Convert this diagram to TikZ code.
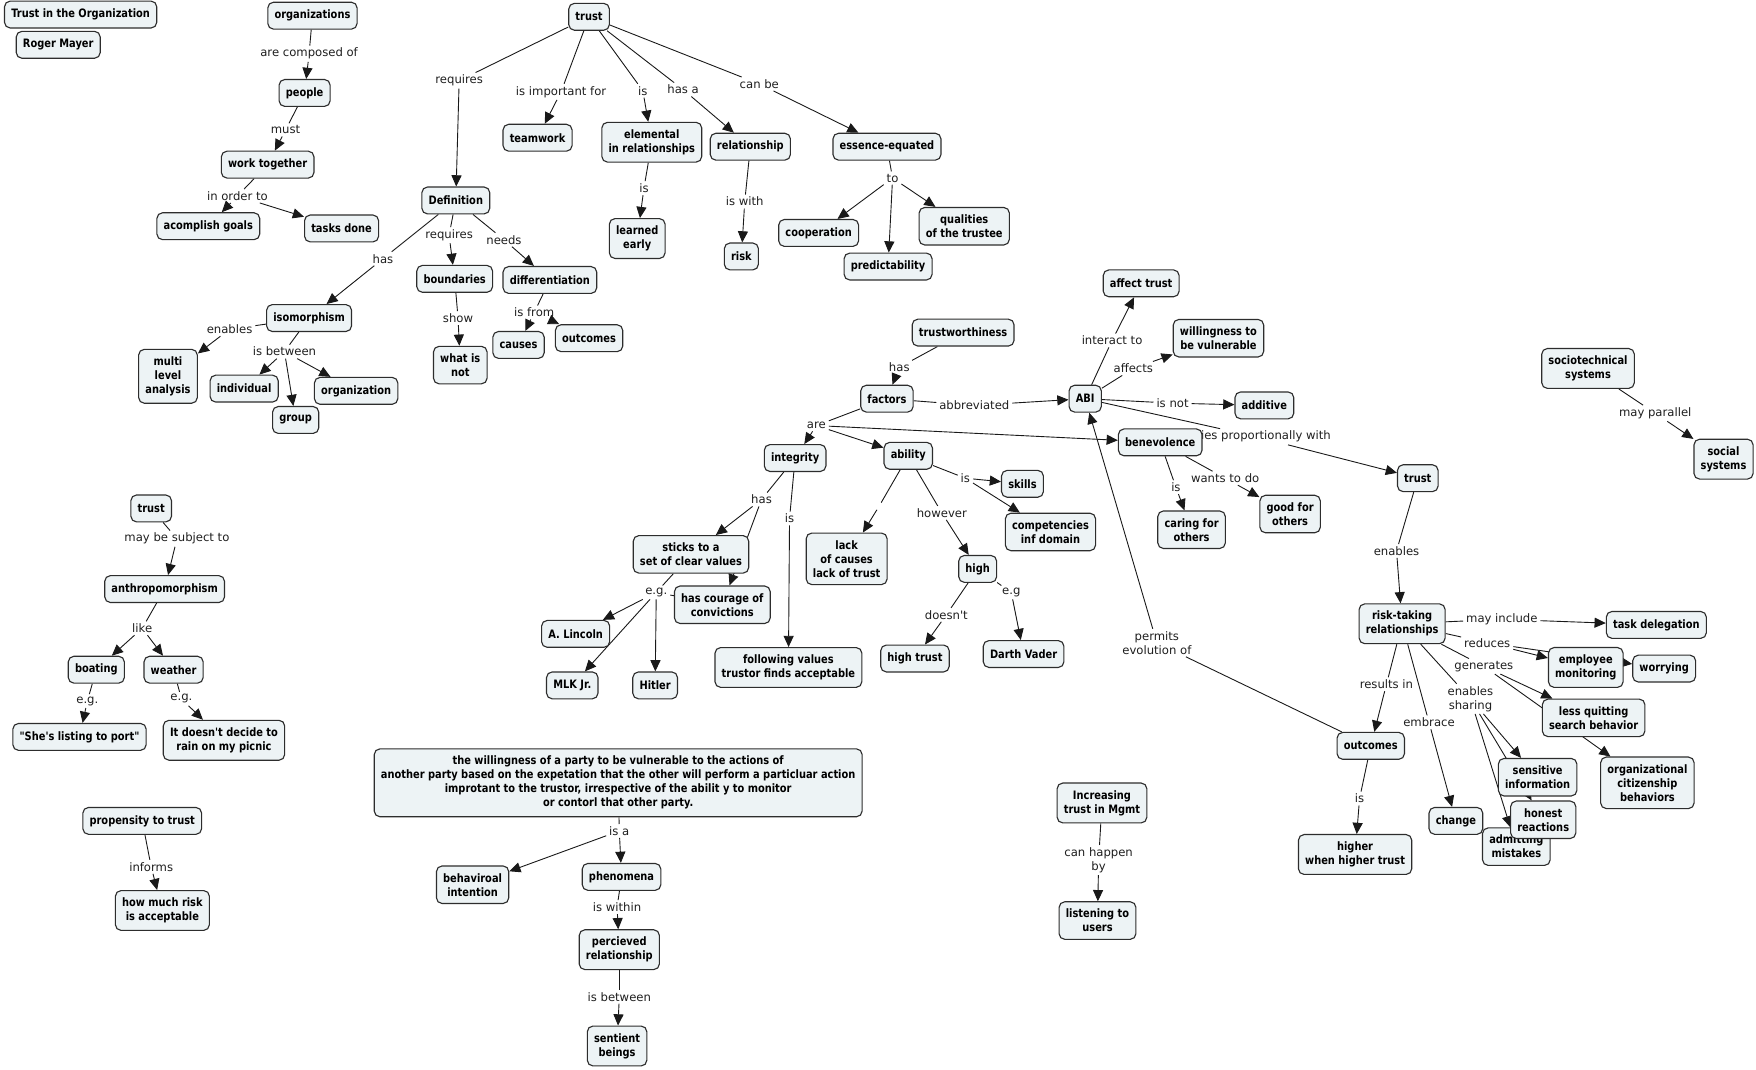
\documentclass[tikz,border=0pt]{standalone}
\usepackage{fontspec}
\setmainfont{DejaVu Sans}
\newfontfamily\boxfont{DejaVu Sans}[FakeStretch=0.85,Ligatures=TeXOff]
\newfontfamily\lblfont{DejaVu Sans}[Ligatures=TeXOff]
\usetikzlibrary{arrows.meta}
\definecolor{boxfill}{RGB}{237,243,245}
\definecolor{boxline}{RGB}{45,45,45}
\definecolor{linkcol}{RGB}{25,25,25}
\pgfdeclarelayer{bg}
\pgfsetlayers{bg,main}
\tikzset{
  cbox/.style={draw=boxline, line width=1pt, fill=boxfill, rounded corners=5pt, inner xsep=6pt, inner ysep=6.5pt, minimum height=24pt, align=center, font=\boxfont\bfseries\fontsize{10.35}{12.5}\selectfont, text=black},
  lbl/.style={inner xsep=2.5pt, inner ysep=2pt, align=center, font=\lblfont\fontsize{10.4}{12.5}\selectfont, text=black!88},
  gap/.style={inner sep=0pt, minimum size=6pt},
  link/.style={draw=linkcol, line width=0.8pt},
  arr/.style={link, -{Triangle[length=10pt,width=9pt]}},
}
\newcommand\mylink[3]{\draw[link] (#1) -- (#2);\foreach \tg in {#3} {\draw[arr] (#2) -- (\tg);}}
\begin{document}
\begin{tikzpicture}[x=1pt,y=-1pt]
\begin{pgfonlayer}{bg}
\path[fill=white] (0,0) rectangle (1568,955);
\end{pgfonlayer}
\useasboundingbox (0,0) rectangle (1568,955);
% ---------- labels ----------
\node[lbl] (l_comp) at (276,48) {are composed of};
\node[lbl] (l_must) at (255,116) {must};
\node[lbl] (l_inorder) at (212,175) {in order to};
\node[lbl] (l_req1) at (410,72) {requires};
\node[lbl] (l_impfor) at (501,82) {is important for};
\node[lbl] (l_is1) at (574,81) {is};
\node[lbl] (l_hasa) at (610,80) {has a};
\node[lbl] (l_canbe) at (678,75) {can be};
\node[lbl] (l_is2) at (575,168) {is};
\node[lbl] (l_iswith) at (665,180) {is with};
\node[lbl] (l_to) at (797,159) {to};
\node[lbl] (l_has1) at (342,231) {has};
\node[lbl] (l_req2) at (401,210) {requires};
\node[lbl] (l_needs) at (450,214) {needs};
\node[lbl] (l_show) at (409,284) {show};
\node[lbl] (l_isfrom) at (477,279) {is from};
\node[lbl] (l_enables1) at (205,294) {enables};
\node[lbl] (l_isbetw1) at (254,314) {is between};
\node[lbl] (l_has2) at (803,328) {has};
\node[lbl] (l_abbr) at (870,362) {abbreviated};
\node[lbl] (l_interact) at (993,304) {interact to};
\node[lbl] (l_affects) at (1012,329) {affects};
\node[lbl] (l_isnot) at (1047,360) {is not};
\node[lbl] (l_varies) at (1122,390) {varies proportionally with};
\node[lbl] (l_are) at (729,380) {are};
\node[lbl] (l_has3) at (680,446) {has};
\node[lbl] (l_is3) at (705,463) {is};
\node[lbl] (l_eg1) at (586,529) {e.g.};
\node[gap] (l_empty) at (785,452) {};
\node[lbl] (l_however) at (841,458) {however};
\node[lbl] (l_is4) at (862,427) {is};
\node[lbl] (l_doesnt) at (845,549) {doesn't};
\node[lbl] (l_eg2) at (903,529) {e.g};
\node[lbl] (l_is5) at (1050,435) {is};
\node[lbl] (l_wants) at (1094,427) {wants to do};
\node[lbl] (l_enables2) at (1247,492) {enables};
\node[lbl] (l_parallel) at (1478,369) {may parallel};
\node[lbl] (l_mayinc) at (1341,553) {may include};
\node[lbl] (l_reduces) at (1328,574) {reduces};
\node[lbl] (l_generates) at (1325,595) {generates};
\node[lbl] (l_share) at (1313,624) {enables\\sharing};
\node[lbl] (l_results) at (1238,611) {results in};
\node[lbl] (l_embrace) at (1276,645) {embrace};
\node[lbl] (l_is6) at (1214,713) {is};
\node[lbl] (l_permits) at (1033,574) {permits\\evolution of};
\node[lbl] (l_canhappen) at (981,768) {can happen\\by};
\node[lbl] (l_subject) at (158,481) {may be subject to};
\node[lbl] (l_like) at (127,561) {like};
\node[lbl] (l_eg3) at (78,626) {e.g.};
\node[lbl] (l_eg4) at (162,624) {e.g.};
\node[lbl] (l_informs) at (135,774) {informs};
\node[lbl] (l_isa) at (553,742) {is a};
\node[lbl] (l_within) at (551,810) {is within};
\node[lbl] (l_isbetw2) at (553,890) {is between};
% ---------- concepts ----------
\node[cbox] (n_title) at (72,13) {Trust in the Organization};
\node[cbox] (n_roger) at (52,40) {Roger Mayer};
\node[cbox] (n_orgs) at (279,14) {organizations};
\node[cbox] (n_people) at (272,83) {people};
\node[cbox] (n_work) at (239,147) {work together};
\node[cbox] (n_goals) at (186,202) {acomplish goals};
\node[cbox] (n_tasks) at (305,204) {tasks done};
\node[cbox] (n_trust1) at (526,15) {trust};
\node[cbox] (n_team) at (480,123) {teamwork};
\node[cbox] (n_elem) at (582,127) {elemental\\in relationships};
\node[cbox] (n_rel) at (670,131) {relationship};
\node[cbox] (n_ess) at (792,131) {essence-equated};
\node[cbox] (n_learn) at (569,213) {learned\\early};
\node[cbox] (n_risk) at (662,229) {risk};
\node[cbox] (n_coop) at (731,208) {cooperation};
\node[cbox] (n_pred) at (793,238) {predictability};
\node[cbox] (n_qual) at (861,202) {qualities\\of the trustee};
\node[cbox] (n_def) at (407,179) {Definition};
\node[cbox] (n_bound) at (406,249) {boundaries};
\node[cbox] (n_diff) at (491,250) {differentiation};
\node[cbox] (n_iso) at (276,284) {isomorphism};
\node[cbox] (n_multi) at (150,336) {multi\\level\\analysis};
\node[cbox] (n_indiv) at (218,347) {individual};
\node[cbox] (n_group) at (264,375) {group};
\node[cbox] (n_org) at (318,349) {organization};
\node[cbox] (n_whatnot) at (411,326) {what is\\not};
\node[cbox] (n_causes) at (463,308) {causes};
\node[cbox] (n_outc1) at (526,302) {outcomes};
\node[cbox] (n_tw) at (860,297) {trustworthiness};
\node[cbox] (n_fact) at (792,356) {factors};
\node[cbox] (n_abi) at (969,356) {ABI};
\node[cbox] (n_affect) at (1019,253) {affect trust};
\node[cbox] (n_will) at (1088,302) {willingness to\\be vulnerable};
\node[cbox] (n_add) at (1129,362) {additive};
\node[cbox] (n_benev) at (1036,395) {benevolence};
\node[cbox] (n_trust2) at (1266,427) {trust};
\node[cbox] (n_integ) at (710,409) {integrity};
\node[cbox] (n_abil) at (811,407) {ability};
\node[cbox] (n_skills) at (913,432) {skills};
\node[cbox] (n_comp) at (938,475) {competencies\\inf domain};
\node[cbox] (n_caring) at (1064,473) {caring for\\others};
\node[cbox] (n_good) at (1152,459) {good for\\others};
\node[cbox] (n_sticks) at (617,495) {sticks to a\\set of clear values};
\node[cbox] (n_courage) at (645,540) {has courage of\\convictions};
\node[cbox] (n_lack) at (756,499) {lack\\of causes\\lack of trust};
\node[cbox] (n_high) at (873,508) {high};
\node[cbox] (n_lincoln) at (514,566) {A. Lincoln};
\node[cbox] (n_mlk) at (511,612) {MLK Jr.};
\node[cbox] (n_hitler) at (585,612) {Hitler};
\node[cbox] (n_follow) at (704,596) {following values\\trustor finds acceptable};
\node[cbox] (n_hightrust) at (817,588) {high trust};
\node[cbox] (n_vader) at (914,584) {Darth Vader};
\node[cbox] (n_socio) at (1418,329) {sociotechnical\\systems};
\node[cbox] (n_social) at (1539,410) {social\\systems};
\node[cbox] (n_rtr) at (1252,557) {risk-taking\\relationships};
\node[cbox] (n_task) at (1479,558) {task delegation};
\node[cbox] (n_emp) at (1416,596) {employee\\monitoring};
\node[cbox] (n_worry) at (1486,597) {worrying};
\node[cbox] (n_lessq) at (1423,641) {less quitting\\search behavior};
\node[cbox] (n_ocb) at (1471,699) {organizational\\citizenship\\behaviors};
\node[cbox] (n_sens) at (1373,694) {sensitive\\information};
\node[cbox] (n_admit) at (1354,756) {admitting\\mistakes};
\node[cbox] (n_honest) at (1378,732) {honest\\reactions};
\node[cbox] (n_change) at (1300,733) {change};
\node[cbox] (n_outc2) at (1224,666) {outcomes};
\node[cbox] (n_higher) at (1210,763) {higher\\when higher trust};
\node[cbox] (n_incr) at (984,717) {Increasing\\trust in Mgmt};
\node[cbox] (n_listen) at (980,822) {listening to\\users};
\node[cbox] (n_trust3) at (135,454) {trust};
\node[cbox] (n_anthro) at (147,526) {anthropomorphism};
\node[cbox] (n_boat) at (86,598) {boating};
\node[cbox] (n_weather) at (155,598) {weather};
\node[cbox] (n_she) at (71,658) {"She's listing to port"};
\node[cbox] (n_rain) at (200,661) {It doesn't decide to\\rain on my picnic};
\node[cbox] (n_prop) at (127,733) {propensity to trust};
\node[cbox] (n_howmuch) at (145,813) {how much risk\\is acceptable};
\node[cbox] (n_deftext) at (552,699) {the willingness of a party to be vulnerable to the actions of\\another party based on the expetation that the other will perform a particluar action\\improtant to the trustor, irrespective of the abilit y to monitor\\or contorl that other party.};
\node[cbox] (n_behav) at (422,790) {behaviroal\\intention};
\node[cbox] (n_phen) at (555,783) {phenomena};
\node[cbox] (n_perc) at (553,848) {percieved\\relationship};
\node[cbox] (n_sent) at (551,934) {sentient\\beings};
% ---------- links ----------
\begin{pgfonlayer}{bg}
\mylink{n_orgs}{l_comp}{n_people}
\mylink{n_people}{l_must}{n_work}
\mylink{n_work}{l_inorder}{n_goals,n_tasks}
\mylink{n_trust1}{l_req1}{n_def}
\mylink{n_trust1}{l_impfor}{n_team}
\mylink{n_trust1}{l_is1}{n_elem}
\mylink{n_trust1}{l_hasa}{n_rel}
\mylink{n_trust1}{l_canbe}{n_ess}
\mylink{n_elem}{l_is2}{n_learn}
\mylink{n_rel}{l_iswith}{n_risk}
\mylink{n_ess}{l_to}{n_coop,n_pred,n_qual}
\mylink{n_def}{l_has1}{n_iso}
\mylink{n_def}{l_req2}{n_bound}
\mylink{n_def}{l_needs}{n_diff}
\mylink{n_bound}{l_show}{n_whatnot}
\mylink{n_diff}{l_isfrom}{n_causes,n_outc1}
\mylink{n_iso}{l_enables1}{n_multi}
\mylink{n_iso}{l_isbetw1}{n_indiv,n_group,n_org}
\mylink{n_tw}{l_has2}{n_fact}
\mylink{n_fact}{l_abbr}{n_abi}
\mylink{n_abi}{l_interact}{n_affect}
\mylink{n_abi}{l_affects}{n_will}
\mylink{n_abi}{l_isnot}{n_add}
\mylink{n_abi}{l_varies}{n_trust2}
\mylink{n_fact}{l_are}{n_integ,n_abil,n_benev}
\mylink{n_integ}{l_has3}{n_sticks,n_courage}
\mylink{n_integ}{l_is3}{n_follow}
\mylink{n_sticks}{l_eg1}{n_lincoln,n_mlk,n_hitler}
\draw[link] (n_courage) -- (l_eg1);
\mylink{n_abil}{l_empty}{n_lack}
\mylink{n_abil}{l_however}{n_high}
\mylink{n_abil}{l_is4}{n_skills,n_comp}
\mylink{n_high}{l_doesnt}{n_hightrust}
\mylink{n_high}{l_eg2}{n_vader}
\mylink{n_benev}{l_is5}{n_caring}
\mylink{n_benev}{l_wants}{n_good}
\mylink{n_trust2}{l_enables2}{n_rtr}
\mylink{n_socio}{l_parallel}{n_social}
\mylink{n_rtr}{l_mayinc}{n_task}
\mylink{n_rtr}{l_reduces}{n_emp,n_worry}
\mylink{n_rtr}{l_generates}{n_lessq,n_ocb}
\mylink{n_rtr}{l_share}{n_sens,n_honest,n_admit}
\mylink{n_rtr}{l_results}{n_outc2}
\mylink{n_rtr}{l_embrace}{n_change}
\mylink{n_outc2}{l_is6}{n_higher}
\mylink{n_outc2}{l_permits}{n_abi}
\mylink{n_incr}{l_canhappen}{n_listen}
\mylink{n_trust3}{l_subject}{n_anthro}
\mylink{n_anthro}{l_like}{n_boat,n_weather}
\mylink{n_boat}{l_eg3}{n_she}
\mylink{n_weather}{l_eg4}{n_rain}
\mylink{n_prop}{l_informs}{n_howmuch}
\mylink{n_deftext}{l_isa}{n_behav,n_phen}
\mylink{n_phen}{l_within}{n_perc}
\mylink{n_perc}{l_isbetw2}{n_sent}
\end{pgfonlayer}
\end{tikzpicture}
\end{document}
